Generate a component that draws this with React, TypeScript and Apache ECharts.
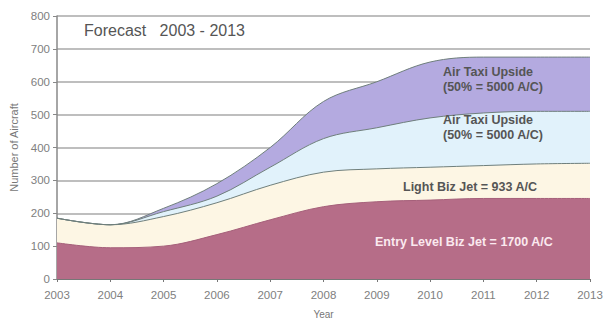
import React, { useEffect, useRef } from "react";
import * as echarts from "echarts";

const years = ["2003", "2004", "2005", "2006", "2007", "2008", "2009", "2010", "2011", "2012", "2013"];
// cumulative top lines of each band
const airTaxiUpper = [185, 165, 215, 290, 400, 540, 600, 660, 675, 675, 675];
const airTaxiLower = [185, 165, 205, 252, 340, 427, 460, 490, 505, 510, 510];
const lightBizJet = [185, 165, 190, 232, 285, 325, 335, 340, 345, 350, 352];
const entryLevelBizJet = [110, 95, 100, 135, 180, 220, 235, 240, 245, 245, 245];

const yMin = 0;
const yMax = 800;
const yInterval = 100;

const title = "Forecast   2003 - 2013";
const bandLabels = {
  upper: "Air Taxi Upside\n(50% = 5000 A/C)",
  lower: "Air Taxi Upside\n(50% = 5000 A/C)",
  light: "Light Biz Jet = 933 A/C",
  entry: "Entry Level Biz Jet = 1700 A/C",
};

export default function App() {
  const ref = useRef<HTMLDivElement>(null);
  useEffect(() => {
    if (!ref.current) return;
    const chart = echarts.init(ref.current, undefined, { renderer: "svg" });
    const lineColor = "#6f7f7c";
    const font = "Liberation Sans, Arial, sans-serif";
    const mk = (name: string, data: number[], color: string) => ({
      name,
      type: "line",
      data,
      symbol: "none",
      smooth: 0.35,
      lineStyle: { color: lineColor, width: 1 },
      areaStyle: { color, opacity: 1 },
    });
    chart.setOption({
      animation: false,
      backgroundColor: "#ffffff",
      textStyle: { fontFamily: font },
      grid: { left: 56, right: 20, top: 16, bottom: 44 },
      xAxis: {
        type: "category",
        data: years,
        boundaryGap: false,
        name: "Year",
        nameLocation: "middle",
        nameGap: 30,
        nameTextStyle: { color: "#777", fontSize: 10 },
        axisLine: { lineStyle: { color: "#777", width: 1 } },
        axisTick: { show: true, length: 3, lineStyle: { color: "#777" } },
        axisLabel: { color: "#808080", fontSize: 11.5, margin: 10 },
        splitLine: { show: false },
      },
      yAxis: {
        type: "value",
        min: yMin,
        max: yMax,
        interval: yInterval,
        name: "Number of Aircraft",
        nameLocation: "middle",
        nameGap: 38,
        nameTextStyle: { color: "#777", fontSize: 11 },
        axisLine: { show: true, lineStyle: { color: "#888", width: 1.5 } },
        axisTick: { show: true, length: 4, lineStyle: { color: "#888" } },
        axisLabel: { color: "#808080", fontSize: 11.5, margin: 7 },
        splitLine: { show: true, lineStyle: { color: "#a8a8a8", width: 1.5 } },
      },
      series: [
        mk("Air Taxi Upside upper", airTaxiUpper, "#b4aae0"),
        mk("Air Taxi Upside lower", airTaxiLower, "#e1f2fb"),
        mk("Light Biz Jet", lightBizJet, "#fdf6e4"),
        { ...mk("Entry Level Biz Jet", entryLevelBizJet, "#b66d88"), lineStyle: { color: "#a5607a", width: 1 } },
      ],
      graphic: [
        { type: "text", z: 100, left: 84, top: 22, style: { text: title, fill: "#555", font: `16px ${font}` } },
        { type: "text", z: 100, left: 443, top: 64, style: { text: bandLabels.upper, fill: "#555", font: `bold 12.5px ${font}`, lineHeight: 15 } },
        { type: "text", z: 100, left: 443, top: 112, style: { text: bandLabels.lower, fill: "#555", font: `bold 12.5px ${font}`, lineHeight: 15 } },
        { type: "text", z: 100, left: 403, top: 180, style: { text: bandLabels.light, fill: "#555", font: `bold 12.5px ${font}` } },
        { type: "text", z: 100, left: 375, top: 235, style: { text: bandLabels.entry, fill: "#fbe9ef", font: `bold 12.5px ${font}` } },
      ],
    });
    return () => chart.dispose();
  }, []);
  return <div ref={ref} style={{ position: "fixed", left: 0, top: 0, width: 610, height: 324 }} />;
}
